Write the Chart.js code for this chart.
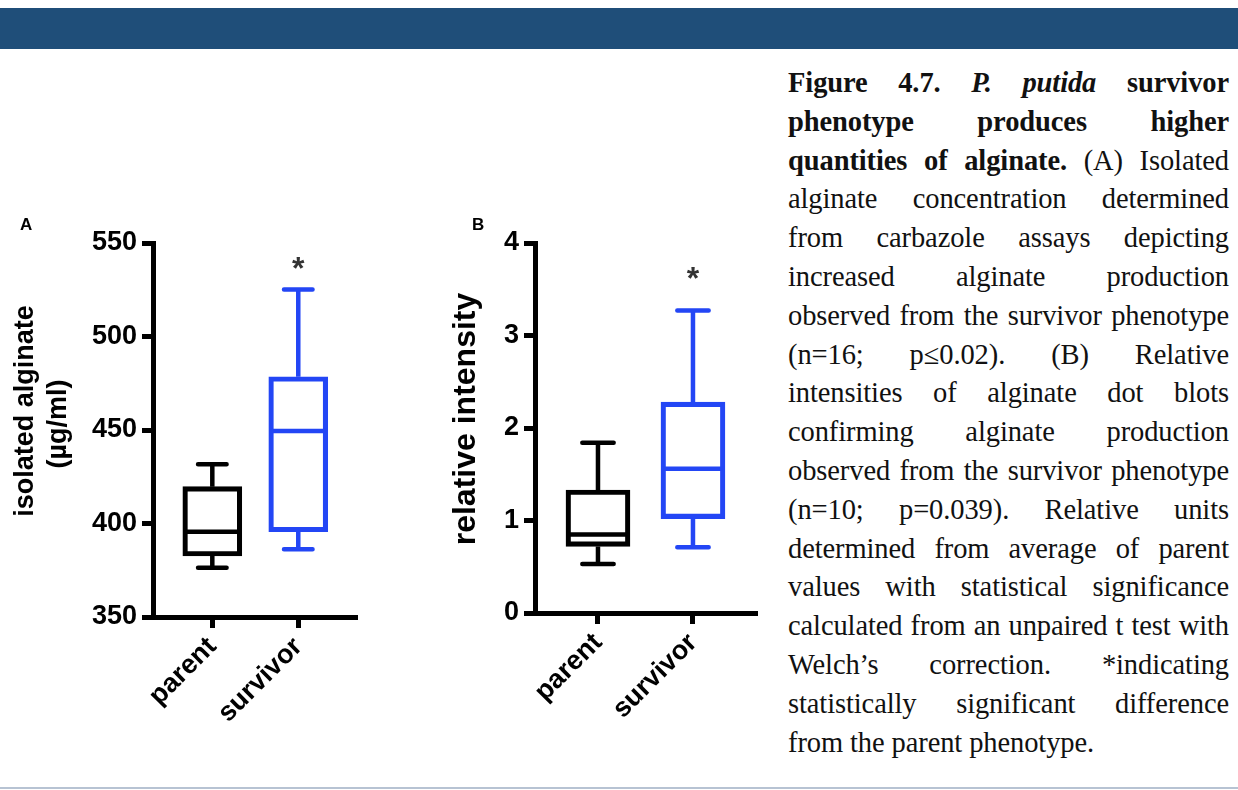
<!DOCTYPE html>
<html><head><meta charset="utf-8">
<script src="https://cdn.jsdelivr.net/npm/chart.js@4.4.1/dist/chart.umd.min.js"></script>
<style>
html,body{margin:0;padding:0;background:#fff;width:1238px;height:790px;overflow:hidden;}
body{position:relative;}
#banner{position:absolute;left:0;top:8px;width:1238px;height:41px;background:#1F4E79;}
#rule{position:absolute;left:0;top:787px;width:1238px;height:2px;background:#B7C3D3;}
#cA{position:absolute;left:0;top:0;}
#cB{position:absolute;left:420px;top:0;}
#caption{position:absolute;left:788px;top:64px;width:441px;font-family:'Liberation Serif','Times New Roman',serif;font-size:28.5px;letter-spacing:-0.1px;line-height:38.8px;color:#111;}
#caption div{text-align:justify;text-align-last:justify;height:38.8px;}
#caption div.last{text-align-last:left;}
</style>
</head>
<body>
<div id="banner"></div>
<canvas id="cA" width="420" height="790"></canvas>
<canvas id="cB" width="360" height="790"></canvas>
<div id="caption">
<div><b>Figure 4.7. <i>P. putida</i> survivor</b></div>
<div><b>phenotype produces higher</b></div>
<div><b>quantities of alginate.</b> (A) Isolated</div>
<div>alginate concentration determined</div>
<div>from carbazole assays depicting</div>
<div>increased alginate production</div>
<div>observed from the survivor phenotype</div>
<div>(n=16; p≤0.02). (B) Relative</div>
<div>intensities of alginate dot blots</div>
<div>confirming alginate production</div>
<div>observed from the survivor phenotype</div>
<div>(n=10; p=0.039). Relative units</div>
<div>determined from average of parent</div>
<div>values with statistical significance</div>
<div>calculated from an unpaired t test with</div>
<div>Welch’s correction. *indicating</div>
<div>statistically significant difference</div>
<div class="last">from the parent phenotype.</div>
</div>
<div id="rule"></div>
<script>
// ---- data ----
const categories = ['parent', 'survivor'];

const alginateMin = [376.4, 386.2];
const alginateQ1 = [382.6, 395.6];
const alginateMedian = [395.6, 449.5];
const alginateQ3 = [419.7, 478.5];
const alginateMax = [431.7, 525.2];
const alginateTicks = [350, 400, 450, 500, 550];

const intensityMin = [0.53, 0.71];
const intensityQ1 = [0.72, 1.02];
const intensityMedian = [0.85, 1.56];
const intensityQ3 = [1.33, 2.28];
const intensityMax = [1.84, 3.27];
const intensityTicks = [0, 1, 2, 3, 4];

const significance = ['', '*'];
const boxColors = ['#000000', '#2346F5'];

// ---- rendering ----
const FONT = "'Liberation Sans', Arial, Helvetica, sans-serif";
Chart.defaults.font.family = FONT;
Chart.defaults.color = '#000';

const boxPlugin = {
  id: 'boxWhisker',
  afterDatasetsDraw(chart, args, o) {
    const ctx = chart.ctx;
    const y = chart.scales.y;
    const meta = chart.getDatasetMeta(0);
    ctx.save();
    meta.data.forEach((bar, i) => {
      const cx = bar.x, w = bar.width, lw = o.lineWidth;
      const pMin = y.getPixelForValue(o.min[i]);
      const pMed = y.getPixelForValue(o.median[i]);
      const pQ1 = y.getPixelForValue(o.q1[i]);
      const pQ3 = y.getPixelForValue(o.q3[i]);
      const pMax = y.getPixelForValue(o.max[i]);
      ctx.strokeStyle = o.colors[i];
      ctx.lineWidth = lw;
      ctx.lineCap = 'butt';
      ctx.beginPath();
      ctx.moveTo(cx - w / 2 + lw / 2, pMed); ctx.lineTo(cx + w / 2 - lw / 2, pMed);
      ctx.moveTo(cx, pQ3); ctx.lineTo(cx, pMax);
      ctx.moveTo(cx, pQ1); ctx.lineTo(cx, pMin);
      ctx.stroke();
      ctx.lineCap = 'round';
      const cw = w * o.capRatio / 2 - lw / 2;
      ctx.beginPath();
      ctx.moveTo(cx - cw, pMax); ctx.lineTo(cx + cw, pMax);
      ctx.moveTo(cx - cw, pMin); ctx.lineTo(cx + cw, pMin);
      ctx.stroke();
      if (o.marks[i]) {
        ctx.fillStyle = '#333';
        ctx.font = 'bold ' + o.starSize + 'px ' + FONT;
        ctx.textAlign = 'center';
        ctx.textBaseline = 'alphabetic';
        ctx.fillText(o.marks[i], cx, y.getPixelForValue(o.starValue) + o.starSize * 0.5);
      }
    });
    ctx.restore();
  }
};

const textPlugin = {
  id: 'panelText',
  afterDraw(chart, args, o) {
    const ctx = chart.ctx;
    o.items.forEach(t => {
      ctx.save();
      ctx.translate(t.x, t.y);
      ctx.rotate(t.rotate || 0);
      ctx.font = t.font;
      ctx.fillStyle = '#000';
      ctx.textAlign = t.align || 'center';
      ctx.textBaseline = 'alphabetic';
      ctx.fillText(t.text, 0, 0);
      ctx.restore();
    });
  }
};

function axisStyle() {
  return {
    offset: false,
    grid: { display: true, offset: false, drawOnChartArea: false, drawTicks: true, tickLength: 11, tickWidth: 5, tickColor: '#000', lineWidth: 5, color: '#000' },
    border: { display: true, color: '#000', width: 5 }
  };
}

function makeChart(id, cfg) {
  const tickFont = { family: FONT, size: 27, weight: 'bold' };
  const xs = Object.assign(axisStyle(), {
    type: 'linear', min: cfg.xMin, max: cfg.xMax,
    afterBuildTicks: s => { s.ticks = categories.map((c, i) => ({ value: i + 1 })); },
    ticks: { callback: v => categories[v - 1], minRotation: 45, maxRotation: 45, autoSkip: false, font: tickFont, color: '#000', padding: 3 },
    afterFit: s => { s.height = 120; }
  });
  const ys = Object.assign(axisStyle(), {
    min: cfg.yTicks[0], max: cfg.yTicks[cfg.yTicks.length - 1],
    afterBuildTicks: s => { s.ticks = cfg.yTicks.map(v => ({ value: v })); },
    ticks: { font: tickFont, color: '#000', padding: 5 },
    afterFit: s => { s.width = cfg.yWidth; }
  });
  return new Chart(document.getElementById(id), {
    type: 'bar',
    data: {
      datasets: [{
        data: categories.map((c, i) => ({ x: i + 1, y: [cfg.q1[i], cfg.q3[i]] })),
        backgroundColor: 'rgba(255,255,255,0)',
        borderColor: boxColors,
        borderWidth: 4.5,
        borderSkipped: false,
        barThickness: cfg.barWidth
      }]
    },
    options: {
      responsive: false, animation: false, devicePixelRatio: 1,
      layout: { padding: cfg.padding },
      scales: { x: xs, y: ys },
      plugins: {
        legend: { display: false }, tooltip: { enabled: false },
        boxWhisker: { min: cfg.min, q1: cfg.q1, median: cfg.median, q3: cfg.q3, max: cfg.max, colors: boxColors, lineWidth: 4.5, capRatio: 0.56, marks: significance, starValue: cfg.starValue, starSize: 32 },
        panelText: { items: cfg.texts }
      }
    },
    plugins: [boxPlugin, textPlugin]
  });
}

makeChart('cA', {
  min: alginateMin, q1: alginateQ1, median: alginateMedian, q3: alginateQ3, max: alginateMax,
  yTicks: alginateTicks, xMin: 0.31, xMax: 2.66, yWidth: 153, barWidth: 59,
  padding: { left: 0, top: 243, right: 65, bottom: 53 },
  starValue: 539.3,
  texts: [
    { text: 'A', x: 20, y: 230, font: 'bold 17px ' + FONT, align: 'left' },
    { text: 'isolated alginate', x: 33, y: 411, rotate: -Math.PI / 2, font: 'bold 27px ' + FONT },
    { text: '(µg/ml)', x: 66, y: 424, rotate: -Math.PI / 2, font: 'bold 27px ' + FONT }
  ]
});

makeChart('cB', {
  min: intensityMin, q1: intensityQ1, median: intensityMedian, q3: intensityQ3, max: intensityMax,
  yTicks: intensityTicks, xMin: 0.337, xMax: 2.653, yWidth: 115, barWidth: 64,
  padding: { left: 0, top: 243, right: 25, bottom: 57 },
  starValue: 3.676,
  texts: [
    { text: 'B', x: 52, y: 230, font: 'bold 17px ' + FONT, align: 'left' },
    { text: 'relative intensity', x: 55, y: 419, rotate: -Math.PI / 2, font: 'bold 32px ' + FONT }
  ]
});
</script>
</body></html>
